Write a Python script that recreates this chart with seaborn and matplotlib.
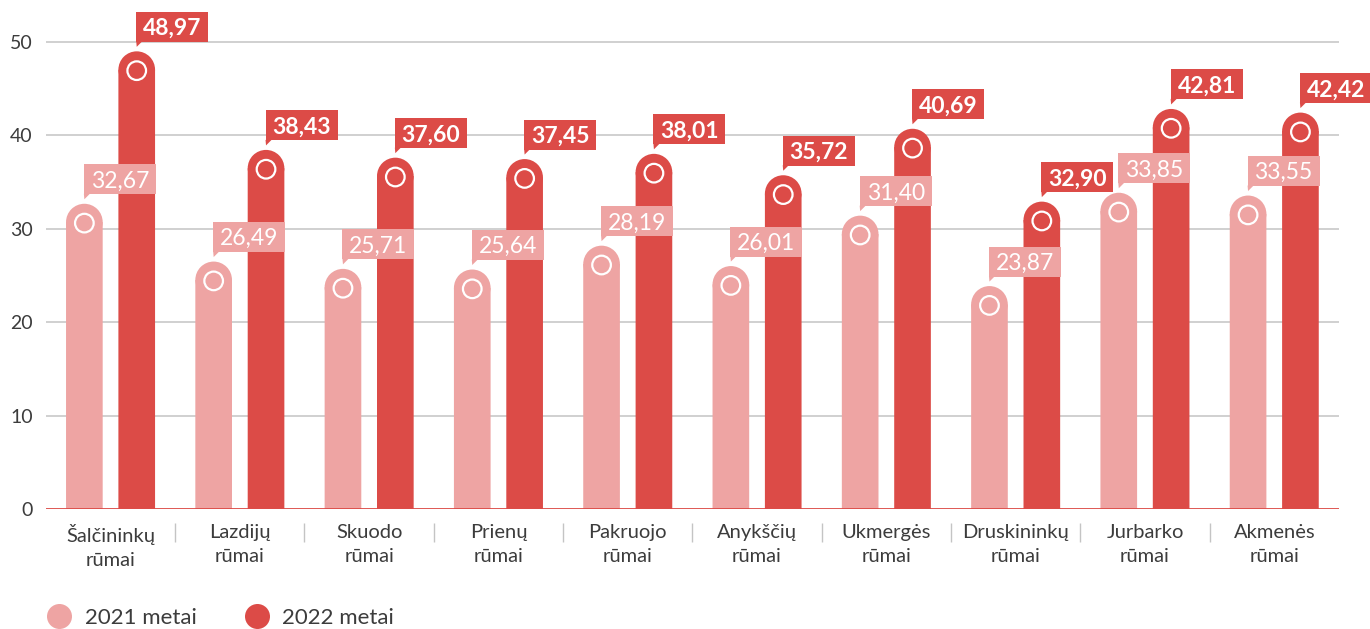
import matplotlib
matplotlib.use("Agg")
import matplotlib.pyplot as plt
from matplotlib.patches import Ellipse, Rectangle, Polygon
from matplotlib.lines import Line2D
import pandas as pd
import seaborn as sns

# Courts (each label gets a second line "rūmai")
courts = ["Šalčininkų", "Lazdijų", "Skuodo", "Prienų", "Pakruojo",
          "Anykščių", "Ukmergės", "Druskininkų", "Jurbarko", "Akmenės"]
suffix = "rūmai"
years = ["2021 metai", "2022 metai"]
values_2021 = [32.67, 26.49, 25.71, 25.64, 28.19, 26.01, 31.40, 23.87, 33.85, 33.55]
values_2022 = [48.97, 38.43, 37.60, 37.45, 38.01, 35.72, 40.69, 32.90, 42.81, 42.42]
y_ticks = [0, 10, 20, 30, 40, 50]

PINK = "#eea4a3"
RED = "#dc4b47"
TEXT = "#3c3c3c"
GRID = "#c8c8c8"
SEP = "#c4c4c4"

sns.set_theme(style="white")
plt.rcParams["font.family"] = ["Lato", "DejaVu Sans"]

labels = [f"{c}\n{suffix}" for c in courts]
df = pd.DataFrame({
    "teismas": labels * 2,
    "metai": [years[0]] * len(labels) + [years[1]] * len(labels),
    "verte": values_2021 + values_2022,
})

fig = plt.figure(figsize=(13.7, 6.29), dpi=100)
ax = fig.add_axes([0.0335, 0.1903, 0.9438, 0.8097])

sns.barplot(data=df, x="teismas", y="verte", hue="metai", order=labels,
            hue_order=years, palette=[PINK, RED], saturation=1,
            width=0.81, gap=0.30, errorbar=None, legend=False,
            ax=ax, zorder=2, linewidth=0)

n = len(labels)
ax.set_xlim(-0.5, n - 0.5)
ax.set_ylim(0, 54.46)
for s in ax.spines.values():
    s.set_visible(False)
ax.set_xlabel("")
ax.set_ylabel("")
ax.set_yticks(y_ticks)
ax.tick_params(axis="y", length=0, pad=9.5, labelsize=14, labelcolor=TEXT)
ax.tick_params(axis="x", length=0, pad=10.5, labelsize=14.5, labelcolor=TEXT)
for t in ax.get_xticklabels():
    t.set_linespacing(1.5)

ax.hlines(y_ticks[1:], -0.5, n - 0.5, color=GRID, lw=1.2, zorder=0)
ax.axhline(0, color=RED, lw=1.3, zorder=3)

# pixel scale of the data axes
fig.canvas.draw()
x0, y0 = ax.transData.transform((0, 0))
x1, y1 = ax.transData.transform((1, 1))
px_x, px_y = x1 - x0, y1 - y0

# separators between category labels
ax.vlines([i + 0.5 for i in range(n - 1)], -14 / px_y, -33 / px_y,
          color=SEP, lw=1, clip_on=False)

for year, container in zip(years, ax.containers):
    is_new = year == years[1]
    color = RED if is_new else PINK
    for bar in container:
        h = bar.get_height()
        w = bar.get_width()
        xc = bar.get_x() + w / 2
        ry = (w * px_x / 2) / px_y
        # rounded cap
        bar.set_height(h - ry)
        bar.set_snap(False)
        ax.add_patch(Ellipse((xc, h - ry), w, 2 * ry, facecolor=color,
                             edgecolor="none", zorder=2))
        ax.scatter([xc], [h - ry - 1 / px_y], s=180, facecolors="none",
                   edgecolors="white", linewidths=1.6, zorder=4)
        # value callout
        bl = xc - 0.5 / px_x
        bb = h + 9.5 / px_y
        bw = 72 / px_x
        bh = 30 / px_y
        ax.add_patch(Rectangle((bl, bb), bw, bh, facecolor=color,
                               edgecolor="none", zorder=5, clip_on=False))
        ax.add_patch(Polygon([(bl, bb + 0.5 / px_y),
                              (bl + 6 / px_x, bb + 0.5 / px_y),
                              (bl + 0.5 / px_x, bb - 5 / px_y)],
                             closed=True, facecolor=color, edgecolor="none",
                             zorder=5, clip_on=False))
        ax.text(bl + bw / 2, bb + 6.8 / px_y, f"{h:.2f}".replace(".", ","),
                ha="center", va="baseline", color="white", fontsize=16.5,
                fontweight="bold" if is_new else "normal",
                zorder=6, clip_on=False)

handles = [Line2D([], [], linestyle="none", marker="o", markersize=18,
                  markerfacecolor=c, markeredgecolor="none")
           for c in (PINK, RED)]
fig.legend(handles, years, loc="center left",
           bbox_to_anchor=(46 / 1370, 11 / 629), ncol=2, frameon=False,
           fontsize=16, handlelength=1.2, handletextpad=0.55,
           columnspacing=2.1, borderpad=0, borderaxespad=0,
           labelcolor=TEXT)

fig.savefig("out.png", dpi=100)
